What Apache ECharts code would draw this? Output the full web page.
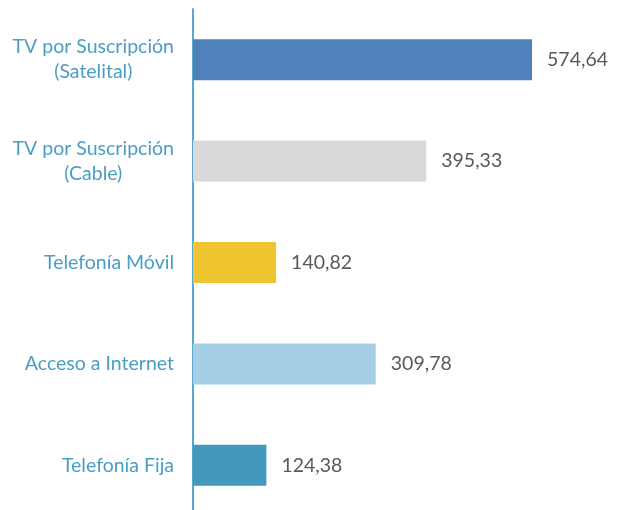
<!DOCTYPE html>
<html>
<head>
<meta charset="utf-8">
<script src="https://cdn.jsdelivr.net/npm/echarts@6/dist/echarts.min.js"></script>
<style>
  html, body { margin: 0; padding: 0; background: #fff; overflow: hidden; }
  #chart { width: 620px; height: 530px; }
</style>
</head>
<body>
<div id="chart"></div>
<script>
// categorías de arriba hacia abajo
const categories = [
  'TV por Suscripción\n(Satelital)',
  'TV por Suscripción\n(Cable)',
  'Telefonía Móvil',
  'Acceso a Internet',
  'Telefonía Fija'
]
const values = [574.64, 395.33, 140.82, 309.78, 124.38]
const barColors = ['#4F81BD', '#D9D9D9', '#EEC52F', '#A6CFE7', '#4299BC']

const chart = echarts.init(document.getElementById('chart'))

chart.setOption({
  animation: false,
  grid: { left: 193, top: 9, width: 354, height: 507 },
  xAxis: {
    type: 'value',
    min: 0,
    max: 600,
    show: false
  },
  yAxis: {
    type: 'category',
    data: categories,
    inverse: true,
    axisTick: { show: false },
    axisLine: { show: true, lineStyle: { color: '#5AA9CA', width: 2 } },
    axisLabel: {
      margin: 19,
      align: 'right',
      formatter: (v) => v.split('\n').map(l => '{c|' + l + '}').join('\n'),
      rich: {
        c: {
          align: 'center',
          color: '#4A9EC3',
          fontFamily: 'Lato',
          fontSize: 19.5,
          lineHeight: 25
        }
      }
    }
  },
  series: [{
    type: 'bar',
    barWidth: 41,
    data: values.map((v, i) => ({ value: v, itemStyle: { color: barColors[i] } })),
    label: {
      show: true,
      position: 'right',
      distance: 15,
      color: '#595959',
      fontFamily: 'Lato',
      fontSize: 19.5,
      formatter: (p) => p.value.toFixed(2).replace('.', ',')
    }
  }]
})
</script>
</body>
</html>
